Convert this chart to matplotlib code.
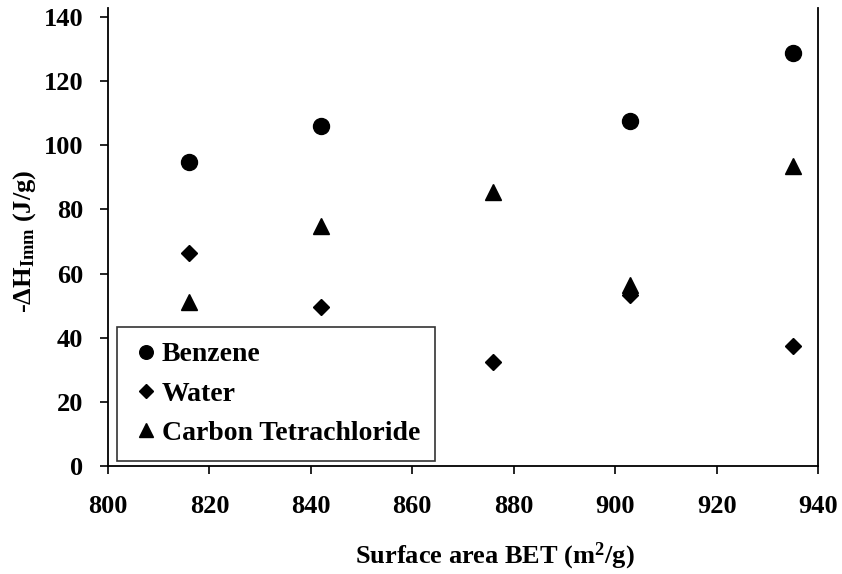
import matplotlib
matplotlib.use("Agg")
import matplotlib.pyplot as plt

# data
surface_bet = [816, 842, 876, 903, 935]
benzene_x = [816, 842, 903, 935]
benzene = [94.7, 106.0, 107.7, 128.7]
water = [66.5, 49.6, 32.3, 53.3, 37.4]
ccl4 = [51.1, 74.8, 85.5, 56.4, 93.6]

plt.rcParams["font.family"] = ["Liberation Serif", "DejaVu Serif"]
plt.rcParams["font.weight"] = "bold"
plt.rcParams["mathtext.fontset"] = "custom"
plt.rcParams["mathtext.rm"] = "Liberation Serif:bold"
plt.rcParams["mathtext.bf"] = "Liberation Serif:bold"
plt.rcParams["mathtext.it"] = "Liberation Serif:bold"

fig = plt.figure(figsize=(8.42, 5.74), dpi=100)
ax = fig.add_axes([108 / 842, 1 - 466 / 574, 710 / 842, 458 / 574])

ax.plot(benzene_x, benzene, "o", color="black", ms=11.5, label="Benzene")
ax.plot(surface_bet, water, "D", color="black", ms=8.5, label="Water")
ax.plot(surface_bet, ccl4, "^", color="black", ms=11.5, label="Carbon Tetrachloride")

ax.set_xlim(800, 940)
ax.set_ylim(0, 142.8)
ax.set_xticks(range(800, 941, 20))
ax.set_yticks(range(0, 141, 20))
ax.tick_params(labelsize=19, direction="out", length=6, width=1.2, colors="black")
ax.tick_params(axis="x", pad=15)
ax.tick_params(axis="y", pad=12)
ax.spines["top"].set_visible(False)
for s in ["left", "right", "bottom"]:
    ax.spines[s].set_linewidth(1.3)

ax.set_xlabel("Surface area BET (m$^{2}$/g)", fontsize=19, fontweight="bold")
ax.xaxis.set_label_coords(0.545, -0.198)
ax.xaxis.label.set_va("center")
ax.set_ylabel("-ΔH$_{\\mathrm{Imm}}$ (J/g)", fontsize=19, fontweight="bold")
ax.yaxis.set_label_coords(-0.118, 0.491)
ax.yaxis.label.set_va("center")

leg = ax.legend(loc="lower left", bbox_to_anchor=(0.012, 0.01), fontsize=20,
                frameon=True, fancybox=False, edgecolor="black",
                handletextpad=0.07, handlelength=1.0, labelspacing=0.5,
                borderpad=0.55, borderaxespad=0.0, markerscale=0.85)
leg.get_frame().set_linewidth(1.2)

fig.savefig("out.png", dpi=100)
